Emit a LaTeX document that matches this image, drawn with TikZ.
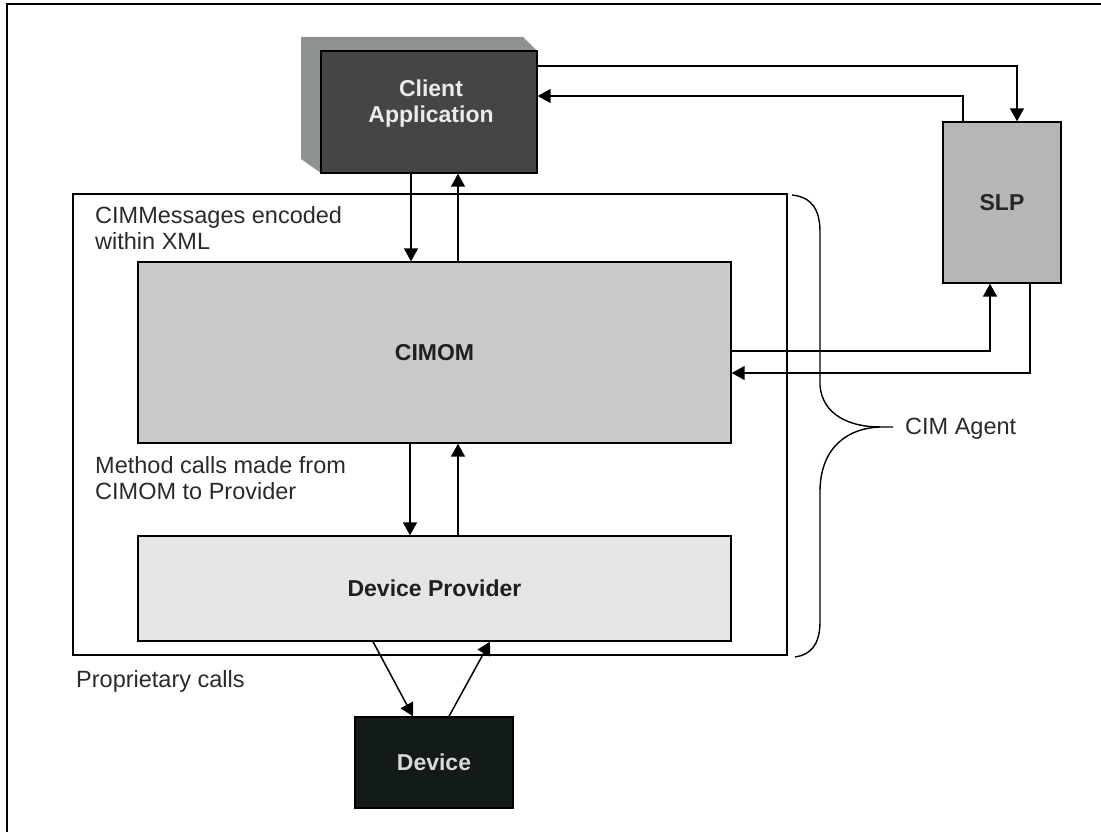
\documentclass[tikz,border=0pt]{standalone}
\usepackage{fontspec}
\setmainfont{Liberation Sans}
\usetikzlibrary{arrows.meta,calc}
\definecolor{clientfill}{HTML}{454545}
\definecolor{shadowfill}{HTML}{8E9292}
\definecolor{slpfill}{HTML}{B6B6B6}
\definecolor{cimomfill}{HTML}{C9C9C9}
\definecolor{dpfill}{HTML}{E5E5E5}
\definecolor{devfill}{HTML}{121A1A}
\definecolor{txt}{HTML}{2A2A2A}
\tikzset{
  box/.style={draw=black, line width=1.4pt, inner sep=0pt, align=center},
  boldlbl/.style={font=\fontsize{23}{26}\selectfont\bfseries},
  plain/.style={font=\fontsize{23.5}{26}\selectfont, text=txt, inner sep=0pt, align=left},
  conn/.style={line width=1.5pt, -{Triangle[length=13pt,width=14pt]}},
}
\begin{document}
\begin{tikzpicture}[x=1pt,y=-1pt]
\useasboundingbox (0,0) rectangle (1101,832);
% frame (top and left)
\draw[line width=1.8pt] (7,832) -- (7,4) -- (1101,4);
% outer CIM agent box
\node[draw=black, line width=1.4pt, minimum width=714pt, minimum height=461pt, inner sep=0pt] (agent) at (430,424.5) {};
% client shadow
\fill[shadowfill] (301,37) -- (523,37) -- (537,51) -- (537,173) -- (321,173) -- (301,159) -- cycle;
% nodes
\node[box, fill=clientfill, minimum width=216pt, minimum height=122pt] (client) at (429,112) {};
\node[boldlbl, text=white!92!black, align=center, inner sep=0pt] (clientlbl) at (431,104) {Client\\Application};
\node[box, fill=slpfill, minimum width=118pt, minimum height=161pt, boldlbl, text=black!85] (slp) at (1002,202.5) {SLP};
\node[box, fill=cimomfill, minimum width=593pt, minimum height=181pt, boldlbl, text=black!88] (cimom) at (434.5,352.5) {CIMOM};
\node[box, fill=dpfill, minimum width=593pt, minimum height=105pt, boldlbl, text=black!88] (dp) at (434.5,588.5) {Device Provider};
\node[box, fill=devfill, minimum width=158pt, minimum height=91pt, boldlbl, text=white!85!black] (device) at (434,762.5) {Device};
% texts
\node[plain, anchor=north west] (t1) at (95,206) {CIMMessages encoded\\within XML};
\node[plain, anchor=north west] (t2) at (95,456) {Method calls made from\\CIMOM to Provider};
\node[plain, anchor=base west] (t3) at (76,687) {Proprietary calls};
\node[plain, anchor=base west] (agentlbl) at (905,434) {CIM Agent};
% connectors
\draw[conn] (411,0 |- client.south) -- (411,0 |- cimom.north);
\draw[conn] (458,0 |- cimom.north) -- (458,0 |- client.south);
\draw[conn] (client.east |- 0,66) -| (1017,0 |- slp.north);
\draw[conn] (963,0 |- slp.north) |- (client.east |- 0,96);
\draw[conn] (cimom.east |- 0,351) -| (990,0 |- slp.south);
\draw[conn] (1030,0 |- slp.south) |- (cimom.east |- 0,373);
\draw[conn] (410,0 |- cimom.south) -- (410,0 |- dp.north);
\draw[conn] (458,0 |- dp.north) -- (458,0 |- cimom.south);
\draw[conn] (373,0 |- dp.south) -- (413,0 |- device.north);
\draw[conn] (449,0 |- device.north) -- (490,0 |- dp.south);
% brace
\coordinate (bracetip) at (893,427);
\draw[line width=1.4pt]
  (792,195) .. controls (812,197) and (820,210) .. (820,232) -- (820,385)
  .. controls (822,415) and (850,427) .. (880,427) -- (bracetip);
\draw[line width=1.4pt]
  (880,427) .. controls (850,428) and (821,445) .. (820,490) -- (820,622)
  .. controls (820,645) and (810,655) .. (795,657);
\end{tikzpicture}
\end{document}
